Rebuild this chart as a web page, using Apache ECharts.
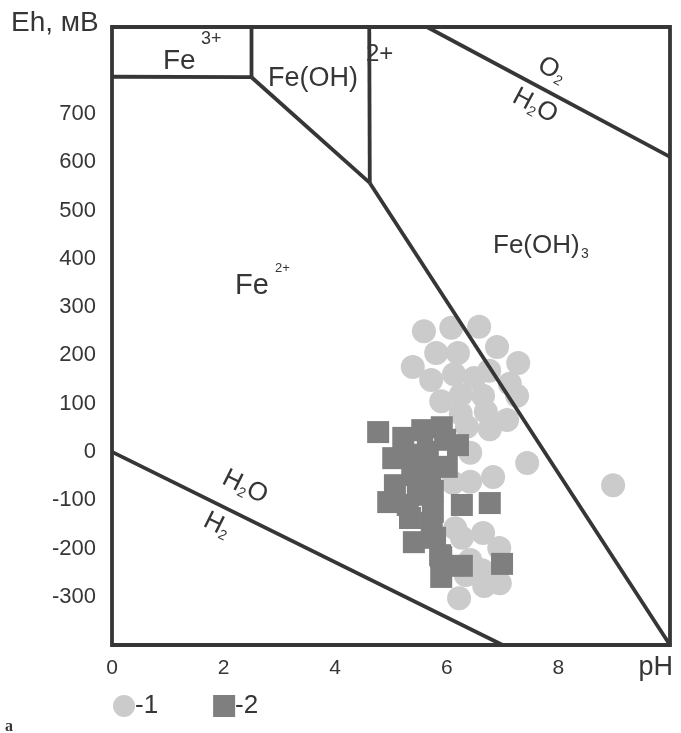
<!DOCTYPE html>
<html><head><meta charset="utf-8">
<script src="https://cdn.jsdelivr.net/npm/echarts@6/dist/echarts.min.js"></script>
<style>html,body{margin:0;padding:0;background:#fff}#c{width:681px;height:733px}</style>
</head><body><div id="c"></div>
<script>
// Tick labels
const xTickLabels = [0, 2, 4, 6, 8];
const yTickLabels = [-300, -200, -100, 0, 100, 200, 300, 400, 500, 600, 700];

// Series 1 (circles): [pH, Eh mV]
const series1 = [
  [5.59,250],[6.08,257],[6.58,259],[6.90,217],[5.39,176],[5.81,205],[6.20,205],[7.28,184],
  [5.72,149],[6.13,161],[6.49,153],[6.76,168],[7.13,141],[5.90,105],[6.25,118],[6.65,116],
  [7.26,116],[6.25,79],[6.70,83],[7.08,66],[6.77,47],[6.36,52],[6.42,-2],[6.83,-52],
  [6.42,-62],[6.11,-64],[7.44,-23],[8.98,-69],[6.27,-178],[6.65,-168],[6.94,-199],
  [6.95,-272],[6.67,-278],[6.22,-303],[6.42,-224],[6.63,-245],[6.15,-158],[6.34,-255]
];
// Series 2 (squares): [pH, Eh mV]
const series2 = [
  [4.77,41],[5.56,45],[5.91,51],[6.20,14],[5.22,29],[5.04,-13],[5.66,0],[6.00,-31],
  [5.07,-69],[5.38,-48],[5.75,-81],[4.95,-104],[5.30,-110],[5.34,-137],[5.75,-124],
  [5.73,-147],[5.41,-187],[5.79,-178],[5.88,-214],[6.27,-110],[6.77,-106],[5.90,-218],
  [5.90,-259],[6.27,-236],[6.99,-232],[5.43,-6],[5.70,-37],[5.48,-89],[5.97,25]
];

// Stability-field boundaries: [pH, Eh mV]
const fe3Fe2Line = [[0,777],[2.5,776]];
const fe3FeOHLine = [[2.5,880],[2.5,776]];
const feOHFe2Line = [[2.5,776],[4.62,557]];
const feOHFeOH3Line = [[4.61,880],[4.62,557]];
const fe2FeOH3Line = [[4.62,557],[10,-400]];
const o2H2oLine = [[5.645,880],[10,611]];
const h2oH2Line = [[0,0],[7.0,-400]];

const FONT = '"Liberation Sans", Arial, Helvetica, sans-serif';
const INK = '#363636';

function boundary(data) {
  return {type:'line', data:data, symbol:'none', silent:true, z:5,
    lineStyle:{color:INK, width:3.8}, animation:false};
}
function txt(x, y, t, size, align) {
  return {type:'text', x:x, y:y, z:20, silent:true,
    style:{text:t, font: size + 'px ' + FONT, fill:INK, textVerticalAlign:'middle', textAlign:align || 'left'}};
}
function chem(cx, cy, rotDeg, parts) {
  const ctx = document.createElement('canvas').getContext('2d');
  const ws = parts.map(p => { ctx.font = p[1] + 'px ' + FONT; return ctx.measureText(p[0]).width; });
  const total = ws.reduce((a,b)=>a+b,0);
  let x = -total/2;
  const children = parts.map((p,i) => { const el = txt(x, p[2], p[0], p[1]); x += ws[i]; return el; });
  return {type:'group', x:cx, y:cy, rotation: -rotDeg*Math.PI/180, children: children, z:20};
}

const chart = echarts.init(document.getElementById('c'), null, {renderer:'canvas'});
chart.setOption({
  animation:false,
  backgroundColor:'#fff',
  grid:{left:112, right:11, top:27, bottom:88, show:true, borderColor:INK, borderWidth:3.8, backgroundColor:'transparent'},
  xAxis:{type:'value', min:0, max:10, interval:2,
    axisLine:{show:false}, axisTick:{show:false}, splitLine:{show:false},
    axisLabel:{margin:13, fontSize:21, color:INK, fontFamily:FONT,
      formatter:v => xTickLabels.indexOf(v) >= 0 ? String(v) : ''}},
  yAxis:{type:'value', min:-400, max:880, interval:100,
    axisLine:{show:false}, axisTick:{show:false}, splitLine:{show:false},
    axisLabel:{margin:16, fontSize:22, color:INK, fontFamily:FONT,
      formatter:v => yTickLabels.indexOf(v) >= 0 ? String(v) : ''}},
  legend:{left:113, top:693, padding:0, itemWidth:22, itemHeight:22, itemGap:55,
    textStyle:{fontSize:26, color:INK, fontFamily:FONT, padding:[0,0,0,-5]},
    data:[{name:'-1', icon:'circle'}, {name:'-2', icon:'rect'}]},
  series:[
    {name:'-1', type:'scatter', data:series1, symbol:'circle', symbolSize:24, z:3,
      itemStyle:{color:'#cbcbcb', opacity:1}},
    {name:'-2', type:'scatter', data:series2, symbol:'rect', symbolSize:22, z:4,
      itemStyle:{color:'#7f7f7f', opacity:1}},
    boundary(fe3Fe2Line), boundary(fe3FeOHLine), boundary(feOHFe2Line),
    boundary(feOHFeOH3Line), boundary(fe2FeOH3Line), boundary(o2H2oLine), boundary(h2oH2Line)
  ],
  graphic:[
    txt(11, 23, 'Eh, мВ', 28),
    txt(673, 668, 'pH', 27, 'right'),
    txt(163, 61, 'Fe', 28), txt(201, 39, '3+', 18),
    txt(268, 79, 'Fe(OH)', 27), txt(366, 54, '2+', 24),
    txt(493, 246, 'Fe(OH)', 26), txt(581, 254, '3', 14),
    txt(235, 286, 'Fe', 29), txt(275, 268, '2+', 13),
    chem(552, 70, 28, [['O',26,0],['2',14,7]]),
    chem(535, 106, 28, [['H',26,0],['2',14,7],['O',26,0]]),
    chem(245, 487, 26.5, [['H',26,0],['2',14,7],['O',26,0]]),
    chem(217, 525, 26.5, [['H',26,0],['2',14,7]]),
    {type:'text', x:5, y:727, z:20, style:{text:'a', font:'bold 16px "Liberation Serif", serif', fill:INK, textVerticalAlign:'middle'}}
  ]
});
</script></body></html>
